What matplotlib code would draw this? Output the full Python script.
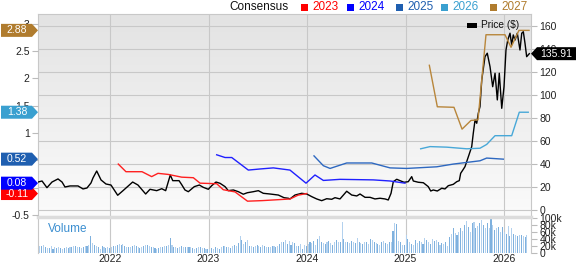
import numpy as np
import pandas as pd
import matplotlib
matplotlib.use("Agg")
import matplotlib.pyplot as plt
from matplotlib.colors import LinearSegmentedColormap
from matplotlib.patches import Polygon, Rectangle

plt.rcParams['font.family'] = ['Liberation Sans', 'DejaVu Sans']

# %% data (x in decimal years)
price_t = [2021.269, 2021.310, 2021.360, 2021.411, 2021.472, 2021.513, 2021.543, 2021.594, 2021.675, 2021.726,
           2021.766, 2021.807, 2021.827, 2021.865, 2021.909, 2021.959, 2022.010, 2022.078, 2022.132, 2022.230,
           2022.284, 2022.362, 2022.406, 2022.474, 2022.525, 2022.565, 2022.612, 2022.637, 2022.677, 2022.701,
           2022.728, 2022.761, 2022.795, 2022.856, 2022.907, 2022.947, 2022.998, 2023.032, 2023.076, 2023.117,
           2023.168, 2023.201, 2023.252, 2023.303, 2023.353, 2023.394, 2023.455, 2023.506, 2023.556, 2023.624,
           2023.709, 2023.766, 2023.810, 2023.827, 2023.878, 2023.946, 2023.997, 2024.048, 2024.098, 2024.149,
           2024.200, 2024.251, 2024.284, 2024.335, 2024.403, 2024.454, 2024.505, 2024.538, 2024.589, 2024.640,
           2024.690, 2024.741, 2024.792, 2024.825, 2024.853, 2024.876, 2024.911, 2024.944, 2024.985, 2025.028,
           2025.063, 2025.079, 2025.130, 2025.181, 2025.231, 2025.256, 2025.282, 2025.323, 2025.368, 2025.401,
           2025.434, 2025.485, 2025.520, 2025.546, 2025.560, 2025.587, 2025.604, 2025.638, 2025.672, 2025.688,
           2025.706, 2025.723, 2025.739, 2025.756, 2025.774, 2025.807, 2025.830, 2025.858, 2025.885, 2025.909,
           2025.932, 2025.952, 2025.977, 2026.000, 2026.020, 2026.038, 2026.061, 2026.078, 2026.094, 2026.112,
           2026.135, 2026.162, 2026.180, 2026.196, 2026.213, 2026.230, 2026.257]
price = [24.3, 25.2, 19.4, 24.3, 27.0, 24.3, 20.0, 20.9, 20.9, 18.3,
         19.1, 23.5, 27.8, 33.9, 26.1, 22.6, 21.7, 12.8, 16.8, 24.3,
         21.7, 13.9, 18.0, 16.8, 18.5, 16.8, 30.4, 25.5, 25.5, 25.5,
         22.0, 17.4, 15.9, 20.3, 21.7, 19.7, 18.0, 21.1, 24.3, 23.2,
         20.3, 16.8, 17.4, 15.9, 13.7, 15.0, 15.9, 16.8, 14.5, 13.9,
         13.0, 10.7, 10.2, 9.6, 13.0, 14.5, 13.9, 11.6, 9.6, 8.1,
         9.8, 9.3, 10.7, 9.6, 16.3, 13.0, 12.2, 13.9, 11.0, 11.0,
         9.6, 10.2, 9.6, 8.7, 14.5, 24.6, 26.7, 25.5, 24.1, 24.6,
         29.0, 25.2, 24.1, 23.7, 20.3, 16.5, 17.4, 16.5, 18.9, 18.3,
         21.1, 22.3, 24.6, 25.5, 31.9, 35.4, 37.7, 46.3, 55.0, 66.7,
         78.3, 75.4, 84.1, 89.8, 113.0, 133.3, 136.3, 124.6, 107.2, 118.9,
         95.7, 118.9, 88.4, 107.2, 139.1, 147.8, 153.7, 143.5, 152.2, 147.8,
         153.7, 139.1, 153.7, 155.0, 145.0, 133.3, 135.91]

eps23_t = [2022.084, 2022.162, 2022.325, 2022.423, 2022.487, 2022.592, 2022.728, 2022.846, 2022.914, 2023.083,
           2023.150, 2023.269, 2023.396, 2023.543, 2023.827, 2023.909, 2023.997]
eps23 = [0.43, 0.29, 0.29, 0.20, 0.26, 0.24, 0.19, 0.18, 0.08, 0.07,
         -0.04, -0.08, -0.25, -0.24, -0.21, -0.14, -0.11]

eps24_t = [2023.083, 2023.168, 2023.236, 2023.404, 2023.523, 2023.658, 2023.827, 2023.990, 2024.081, 2024.166,
           2024.335, 2024.673, 2024.843, 2024.995]
eps24 = [0.60, 0.55, 0.55, 0.32, 0.34, 0.36, 0.32, 0.08, 0.23, 0.13,
         0.15, 0.14, 0.12, 0.08]

eps25_t = [2024.071, 2024.166, 2024.234, 2024.403, 2024.657, 2024.843, 2025.012, 2025.317, 2025.485, 2025.756,
           2025.824, 2025.993]
eps25 = [0.58, 0.40, 0.35, 0.45, 0.45, 0.36, 0.35, 0.38, 0.43, 0.49,
         0.54, 0.52]

eps26_t = [2025.154, 2025.249, 2025.418, 2025.621, 2025.756, 2025.824, 2025.909, 2026.078, 2026.155, 2026.246]
eps26 = [0.71, 0.75, 0.74, 0.71, 0.72, 0.79, 0.95, 0.95, 1.38, 1.38]

eps27_t = [2025.242, 2025.323, 2025.492, 2025.574, 2025.665, 2025.736, 2025.817, 2026.010, 2026.071, 2026.152,
           2026.254]
eps27 = [2.24, 1.48, 1.47, 1.07, 1.23, 1.24, 2.80, 2.80, 2.57, 2.88, 2.88]

# weekly volume, thousands
vol_2021 = [18, 18, 20, 22, 15, 14, 14, 18, 12, 15, 14, 15, 14, 12, 14, 15, 13, 15, 17, 18,
            20, 16, 15, 14, 16, 18, 20, 22, 48, 28, 22, 18, 16, 12, 18, 15, 14, 16]
vol_2022 = [14, 16, 18, 20, 22, 25, 21, 24, 19, 17, 15, 16, 20, 22, 18, 15, 14, 16, 19, 21,
            23, 20, 17, 15, 14, 12, 13, 15, 17, 18, 20, 22, 41, 22, 17, 15, 14, 16, 18, 17,
            16, 15, 17, 16, 14, 12, 13, 15, 17, 14, 13, 12]
vol_2023 = [12, 10, 14, 12, 15, 13, 11, 16, 18, 20, 17, 15, 14, 19, 22, 18, 28, 48, 36, 25,
            30, 38, 20, 18, 16, 20, 22, 19, 17, 21, 18, 16, 15, 17, 19, 18, 16, 20, 24, 32,
            30, 38, 25, 35, 22, 30, 28, 20, 18, 24, 12, 22]
vol_2024 = [20, 25, 30, 28, 35, 22, 40, 47, 32, 28, 25, 30, 35, 27, 22, 30, 38, 32, 30, 88,
            40, 32, 30, 28, 35, 30, 28, 43, 30, 28, 25, 32, 30, 25, 40, 38, 30, 28, 25, 22,
            30, 35, 28, 25, 32, 30, 62, 87, 84, 35, 30, 22]
vol_2025 = [22, 50, 40, 30, 25, 22, 38, 28, 35, 30, 25, 42, 38, 30, 25, 40, 35, 38, 30, 22,
            28, 25, 30, 20, 45, 55, 72, 58, 50, 60, 70, 62, 80, 92, 75, 60, 85, 88, 70, 78,
            85, 95, 80, 72, 85, 70, 97, 80, 65, 70, 75, 60]
vol_2026 = [75, 60, 55, 78, 48, 70, 55, 52, 48, 50, 52, 48, 45, 50]
volume = vol_2021 + vol_2022 + vol_2023 + vol_2024 + vol_2025 + vol_2026

years = [2022, 2023, 2024, 2025, 2026]
last_price = 135.91
tags = [(-0.11, "-0.11", "#ff0000"), (0.08, "0.08", "#0000ff"), (0.52, "0.52", "#1f5fb0"),
        (1.38, "1.38", "#3aa0d0"), (2.88, "2.88", "#b07c2e")]

# %% layout
W, H = 576, 264
fig = plt.figure(figsize=(5.76, 2.64), dpi=100)


def box(l, t, r, b):
    return [l / W, 1 - b / H, (r - l) / W, (b - t) / H]


ax = fig.add_axes(box(38, 14, 531, 217))
axv = fig.add_axes(box(38, 217, 531, 253), sharex=ax)

grad = LinearSegmentedColormap.from_list("g", ["#e3e3e3", "#fbfbfb"])
ax.imshow(np.linspace(0, 1, 100).reshape(-1, 1), cmap=grad, extent=[0, 1, 0, 1],
          transform=ax.transAxes, aspect="auto", zorder=0)

ax.plot(price_t, price, color="black", lw=1.0, zorder=3)
ax.set_xlim(2021.269, 2026.274)
ax.set_ylim(-6.1, 170.4)
ax.set_yticks(range(0, 161, 20))
ax.set_xticks(years)
ax.grid(True, color="#c8c8c8", lw=0.8)
ax.set_axisbelow(True)
for s in ax.spines.values():
    s.set_color("#c8c8c8")

ax_eps = ax.twinx()
# twinx moves the host ticks to the left, so put them back on the right
ax.yaxis.tick_right()
ax.tick_params(axis="y", length=4, color="#bbbbbb", labelsize=7.5, labelcolor="#222222", pad=2)
ax.tick_params(axis="x", length=0, labelbottom=False)

ax_eps.plot(eps23_t, eps23, color="#ff2020", lw=1.0)
ax_eps.plot(eps24_t, eps24, color="#2020ff", lw=1.0)
ax_eps.plot(eps25_t, eps25, color="#2e68c0", lw=1.0)
ax_eps.plot(eps26_t, eps26, color="#48a8d8", lw=1.0)
ax_eps.plot(eps27_t, eps27, color="#b8863b", lw=1.0)
ax_eps.set_ylim(-0.54, 3.18)
ax_eps.yaxis.tick_left()
ax_eps.set_yticks(np.arange(-0.5, 3.01, 0.5))
ax_eps.set_yticklabels([f"{v:g}" for v in np.arange(-0.5, 3.01, 0.5)])
ax_eps.tick_params(axis="y", length=4, color="#bbbbbb", labelsize=7.5, labelcolor="#222222", pad=2)
for s in ax_eps.spines.values():
    s.set_visible(False)

# volume panel
vol_t = pd.date_range("2021-04-09", periods=len(volume), freq="7D")
vol_x = vol_t.year + (vol_t.dayofyear - 1) / 365.25
bar_cols = ["#b3d1ee" if i % 2 else "#7fb1de" for i in range(len(volume))]
axv.bar(vol_x, volume, width=0.011, color=bar_cols, zorder=2)
axv.set_ylim(-1, 103)
axv.set_yticks(range(0, 101, 20))
axv.set_yticklabels(["0", "20k", "40k", "60k", "80k", "100k"])
axv.yaxis.tick_right()
axv.tick_params(axis="y", length=4, color="#bbbbbb", labelsize=7.5, labelcolor="#222222", pad=2)
axv.tick_params(axis="x", length=0, labelsize=7.5, labelcolor="#222222", pad=0.5)
axv.set_xticks(years)
axv.set_xticklabels([str(y) for y in years])
axv.grid(True, axis="x", color="#c8c8c8", lw=0.8)
axv.set_axisbelow(True)
axv.spines["top"].set_color("#dcdcdc")
axv.spines["top"].set_linewidth(2.5)
axv.spines["left"].set_color("#c8c8c8")
axv.spines["right"].set_color("#c8c8c8")
axv.spines["bottom"].set_visible(False)
fig.text(48 / W, 1 - 228.5 / H, "Volume", color="#3b8ed0", fontsize=8.5, va="center")

# legend on top
fig.text(288 / W, 1 - 7 / H, "Consensus", ha="right", va="center", fontsize=8.5, color="#111111")
legend_items = [(301, "2023", "#ff0000"), (347, "2024", "#0000ff"), (396, "2025", "#1f5fb0"),
                (441, "2026", "#3aa0d0"), (490, "2027", "#b07c2e")]
for lx, lab, c in legend_items:
    fig.add_artist(Rectangle((lx / W, 1 - 10.5 / H), 7 / W, 7 / H, transform=fig.transFigure,
                             color=c, lw=0))
    fig.text((lx + 11) / W, 1 - 7 / H, lab, va="center", fontsize=8.5, color=c)

# price legend
fig.add_artist(Rectangle((467 / W, 1 - 28 / H), 10 / W, 5 / H, transform=fig.transFigure,
                         color="black", lw=0))
fig.text(481 / W, 1 - 25.5 / H, "Price ($)", va="center", fontsize=7.3, color="#111111")

# value tags
for val, txt, c in tags:
    y = ax_eps.transData.transform((0, val))[1]
    pts = [(1, y - 6.5), (32, y - 6.5), (38, y), (32, y + 6.5), (1, y + 6.5)]
    fig.add_artist(Polygon([(px / W, py / H) for px, py in pts], closed=True,
                           transform=fig.transFigure, fc=c, ec="none", zorder=5))
    fig.text(17 / W, y / H, txt, ha="center", va="center", color="white", fontsize=7.5, zorder=6)

y = ax.transData.transform((0, last_price))[1]
pts = [(531, y), (537, y + 6.5), (576, y + 6.5), (576, y - 6.5), (537, y - 6.5)]
fig.add_artist(Polygon([(px / W, py / H) for px, py in pts], closed=True,
                       transform=fig.transFigure, fc="black", ec="none", zorder=5))
fig.text(556 / W, y / H, f"{last_price:.2f}", ha="center", va="center", color="white",
         fontsize=7.5, zorder=6)

fig.savefig("out.png", dpi=100)
